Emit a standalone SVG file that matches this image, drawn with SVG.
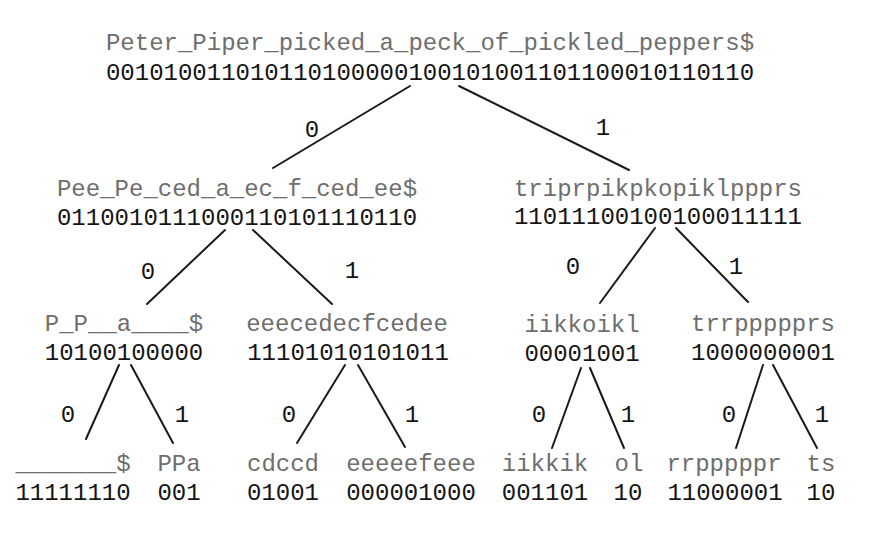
<svg xmlns="http://www.w3.org/2000/svg" width="876" height="540" viewBox="0 0 876 540">
<style>
text{font-family:"Liberation Mono","DejaVu Sans Mono",monospace;font-size:24px;text-anchor:middle}
.s{fill:#6e6e6e}
.b{fill:#151515}
.l{fill:#151515}
#edges line{stroke:#1a1a1a;stroke-width:2;stroke-linecap:round}
</style>
<rect width="876" height="540" fill="#ffffff"/>
<g id="edges">
<line x1="410" y1="86" x2="273" y2="168"/>
<line x1="459" y1="86" x2="629" y2="170"/>
<line x1="225" y1="230" x2="147" y2="304"/>
<line x1="253" y1="230" x2="332" y2="304"/>
<line x1="655" y1="228" x2="600" y2="303"/>
<line x1="676" y1="228" x2="748" y2="302"/>
<line x1="119" y1="365" x2="86" y2="439"/>
<line x1="131" y1="365" x2="173" y2="443"/>
<line x1="345" y1="365" x2="297" y2="443"/>
<line x1="358" y1="365" x2="405" y2="447"/>
<line x1="581" y1="368" x2="552" y2="448"/>
<line x1="590" y1="368" x2="624" y2="448"/>
<line x1="763" y1="365" x2="736" y2="448"/>
<line x1="773" y1="365" x2="817" y2="448"/>
</g>
<g id="edge-labels">
<text class="l" x="312" y="137">0</text>
<text class="l" x="603" y="135">1</text>
<text class="l" x="148" y="279">0</text>
<text class="l" x="352" y="278">1</text>
<text class="l" x="573" y="274">0</text>
<text class="l" x="736" y="274">1</text>
<text class="l" x="68" y="422">0</text>
<text class="l" x="182" y="422">1</text>
<text class="l" x="289" y="422">0</text>
<text class="l" x="412" y="422">1</text>
<text class="l" x="539" y="422">0</text>
<text class="l" x="628" y="422">1</text>
<text class="l" x="729" y="422">0</text>
<text class="l" x="822" y="422">1</text>
</g>
<g id="n-root">
<text class="s" x="430" y="50">Peter_Piper_picked_a_peck_of_pickled_peppers$</text>
<text class="b" x="430" y="80">001010011010110100000100101001101100010110110</text>
</g>
<g id="n-0">
<text class="s" x="237" y="196">Pee_Pe_ced_a_ec_f_ced_ee$</text>
<text class="b" x="237" y="225">0110010111000110101110110</text>
</g>
<g id="n-1">
<text class="s" x="658" y="196">triprpikpkopiklppprs</text>
<text class="b" x="658" y="224">11011100100100011111</text>
</g>
<g id="n-00">
<text class="s" x="124" y="331">P_P__a____$</text>
<text class="b" x="124" y="360">10100100000</text>
</g>
<g id="n-01">
<text class="s" x="347" y="331">eeecedecfcedee</text>
<text class="b" x="348" y="360">11101010101011</text>
</g>
<g id="n-10">
<text class="s" x="582" y="332">iikkoikl</text>
<text class="b" x="582" y="361">00001001</text>
</g>
<g id="n-11">
<text class="s" x="763" y="331">trrppppprs</text>
<text class="b" x="763" y="360">1000000001</text>
</g>
<g id="n-000">
<text class="s" x="73" y="471">_______$</text>
<text class="b" x="73" y="500">11111110</text>
</g>
<g id="n-001">
<text class="s" x="179" y="471">PPa</text>
<text class="b" x="179" y="500">001</text>
</g>
<g id="n-010">
<text class="s" x="283" y="471">cdccd</text>
<text class="b" x="283" y="500">01001</text>
</g>
<g id="n-011">
<text class="s" x="411" y="471">eeeeefeee</text>
<text class="b" x="411" y="500">000001000</text>
</g>
<g id="n-100">
<text class="s" x="545" y="471">iikkik</text>
<text class="b" x="545" y="500">001101</text>
</g>
<g id="n-101">
<text class="s" x="629" y="471">ol</text>
<text class="b" x="628" y="500">10</text>
</g>
<g id="n-110">
<text class="s" x="724" y="471">rrpppppr</text>
<text class="b" x="725" y="500">11000001</text>
</g>
<g id="n-111">
<text class="s" x="821" y="471">ts</text>
<text class="b" x="821" y="500">10</text>
</g>
</svg>
